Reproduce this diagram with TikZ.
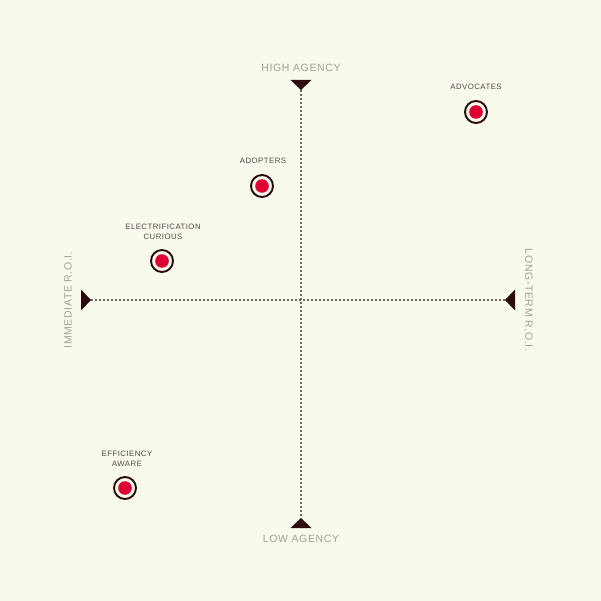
\documentclass[tikz,border=0pt]{standalone}
\usepackage{fontspec}
\setmainfont{Liberation Sans}
\newfontfamily\axfont[LetterSpace=6]{Liberation Sans}
\newfontfamily\lbfont[LetterSpace=6]{Liberation Sans}
\definecolor{bg}{RGB}{248,250,236}
\definecolor{dotc}{RGB}{105,108,95}
\definecolor{tipc}{RGB}{45,10,12}
\definecolor{axtext}{RGB}{160,160,152}
\definecolor{lbtext}{RGB}{80,72,70}
\definecolor{ringc}{RGB}{40,10,12}
\definecolor{redc}{RGB}{222,0,50}
\begin{document}
\begin{tikzpicture}[x=1pt,y=-1pt,
  axisline/.style={dotc,line width=1.6pt,dash pattern=on 1.6pt off 2.4pt},
  tipshape/.style={fill=tipc,draw=none},
  axlabel/.style={text=axtext,font=\axfont\fontsize{10.5}{12}\selectfont,inner sep=0pt},
  ptlabel/.style={text=lbtext,font=\lbfont\fontsize{7.8}{9.8}\selectfont,align=center,inner sep=0pt},
  target/.style={circle,draw=ringc,line width=1.9pt,minimum size=22pt,inner sep=0pt,
    path picture={\fill[redc] (path picture bounding box.center) circle[radius=6.8pt];}}]
\useasboundingbox (0,0) rectangle (601,601);
\fill[bg] (0,0) rectangle (601,601);
% axes
\coordinate (vt) at (301,90);
\coordinate (vb) at (301,518);
\coordinate (hl) at (91,300);
\coordinate (hr) at (505,300);
\draw[axisline] (vt) -- (vb);
\draw[axisline] (hl) -- (hr);
% tips
\fill[tipshape] (290.5,80) -- (311.5,80) -- (vt) -- cycle;
\fill[tipshape] (290.5,528) -- (311.5,528) -- (vb) -- cycle;
\fill[tipshape] (81,289.5) -- (81,310.5) -- (hl) -- cycle;
\fill[tipshape] (515,289.5) -- (515,310.5) -- (hr) -- cycle;
% axis labels
\node[axlabel] (high) at (301,68) {HIGH AGENCY};
\node[axlabel] (low) at (301,539) {LOW AGENCY};
\node[axlabel,rotate=90] (imm) at (68,300) {IMMEDIATE R.O.I.};
\node[axlabel,rotate=-90] (long) at (529,300) {LONG-TERM R.O.I.};
% points
\node[target] (adv) at (476,112) {};
\node[ptlabel] (advl) at (476,87) {ADVOCATES};
\node[target] (ado) at (262,186) {};
\node[ptlabel] (adol) at (263,161) {ADOPTERS};
\node[target] (ele) at (162,261) {};
\node[ptlabel] (elel) at (163,232) {ELECTRIFICATION\\CURIOUS};
\node[target] (eff) at (125,488) {};
\node[ptlabel] (effl) at (127,459) {EFFICIENCY\\AWARE};
\end{tikzpicture}
\end{document}
